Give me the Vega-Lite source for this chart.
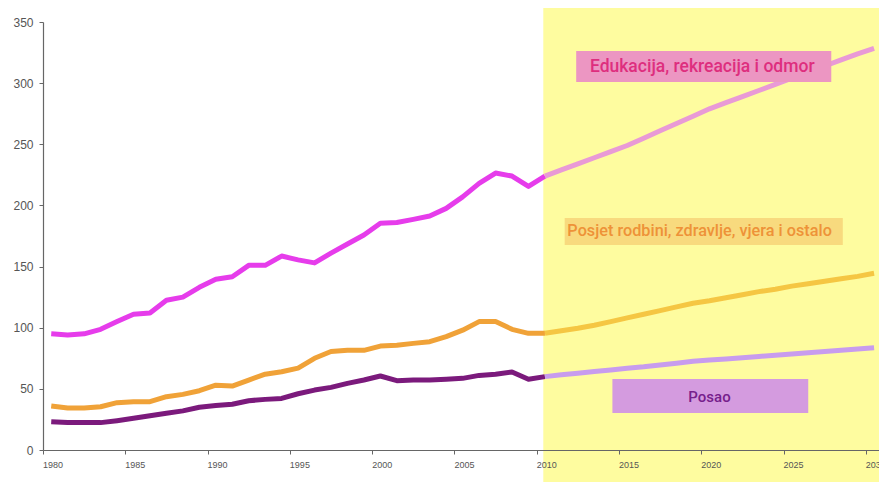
{
  "$schema": "https://vega.github.io/schema/vega-lite/v6.json",
  "width": 836,
  "height": 428,
  "autosize": {"type": "none"},
  "padding": {"left": 43, "top": 22, "right": 0, "bottom": 32},
  "background": "white",
  "config": {"view": {"stroke": null}},
  "datasets": {
    "lines": [
      {"year":1980,"v":95,"s":"edu_h"},{"year":1981,"v":94,"s":"edu_h"},{"year":1982,"v":95,"s":"edu_h"},{"year":1983,"v":98.7,"s":"edu_h"},{"year":1984,"v":105,"s":"edu_h"},{"year":1985,"v":111,"s":"edu_h"},{"year":1986,"v":112,"s":"edu_h"},{"year":1987,"v":122.5,"s":"edu_h"},{"year":1988,"v":125,"s":"edu_h"},{"year":1989,"v":133,"s":"edu_h"},{"year":1990,"v":139.6,"s":"edu_h"},{"year":1991,"v":141.7,"s":"edu_h"},{"year":1992,"v":151,"s":"edu_h"},{"year":1993,"v":151,"s":"edu_h"},{"year":1994,"v":158.6,"s":"edu_h"},{"year":1995,"v":155.5,"s":"edu_h"},{"year":1996,"v":153,"s":"edu_h"},{"year":1997,"v":161,"s":"edu_h"},{"year":1998,"v":168.5,"s":"edu_h"},{"year":1999,"v":175.8,"s":"edu_h"},{"year":2000,"v":185.5,"s":"edu_h"},{"year":2001,"v":186,"s":"edu_h"},{"year":2002,"v":188.6,"s":"edu_h"},{"year":2003,"v":191.3,"s":"edu_h"},{"year":2004,"v":197.6,"s":"edu_h"},{"year":2005,"v":207,"s":"edu_h"},{"year":2006,"v":218,"s":"edu_h"},{"year":2007,"v":226.5,"s":"edu_h"},{"year":2008,"v":224,"s":"edu_h"},{"year":2009,"v":215.5,"s":"edu_h"},{"year":2010,"v":224,"s":"edu_h"},
      {"year":2010,"v":224,"s":"edu_f"},{"year":2011,"v":229,"s":"edu_f"},{"year":2012,"v":234,"s":"edu_f"},{"year":2013,"v":239,"s":"edu_f"},{"year":2014,"v":244,"s":"edu_f"},{"year":2015,"v":249,"s":"edu_f"},{"year":2016,"v":255,"s":"edu_f"},{"year":2017,"v":261,"s":"edu_f"},{"year":2018,"v":267,"s":"edu_f"},{"year":2019,"v":273,"s":"edu_f"},{"year":2020,"v":279,"s":"edu_f"},{"year":2021,"v":284,"s":"edu_f"},{"year":2022,"v":289,"s":"edu_f"},{"year":2023,"v":294,"s":"edu_f"},{"year":2024,"v":299,"s":"edu_f"},{"year":2025,"v":304,"s":"edu_f"},{"year":2026,"v":309,"s":"edu_f"},{"year":2027,"v":314,"s":"edu_f"},{"year":2028,"v":319,"s":"edu_f"},{"year":2029,"v":324,"s":"edu_f"},{"year":2030,"v":328.5,"s":"edu_f"},
      {"year":1980,"v":36,"s":"pos_h"},{"year":1981,"v":34.3,"s":"pos_h"},{"year":1982,"v":34.3,"s":"pos_h"},{"year":1983,"v":35.4,"s":"pos_h"},{"year":1984,"v":38.7,"s":"pos_h"},{"year":1985,"v":39.5,"s":"pos_h"},{"year":1986,"v":39.5,"s":"pos_h"},{"year":1987,"v":43.6,"s":"pos_h"},{"year":1988,"v":45.5,"s":"pos_h"},{"year":1989,"v":48.5,"s":"pos_h"},{"year":1990,"v":53,"s":"pos_h"},{"year":1991,"v":52.3,"s":"pos_h"},{"year":1992,"v":57.2,"s":"pos_h"},{"year":1993,"v":62,"s":"pos_h"},{"year":1994,"v":64,"s":"pos_h"},{"year":1995,"v":67,"s":"pos_h"},{"year":1996,"v":75,"s":"pos_h"},{"year":1997,"v":80.5,"s":"pos_h"},{"year":1998,"v":81.5,"s":"pos_h"},{"year":1999,"v":81.5,"s":"pos_h"},{"year":2000,"v":85,"s":"pos_h"},{"year":2001,"v":85.6,"s":"pos_h"},{"year":2002,"v":87.2,"s":"pos_h"},{"year":2003,"v":88.6,"s":"pos_h"},{"year":2004,"v":92.7,"s":"pos_h"},{"year":2005,"v":98,"s":"pos_h"},{"year":2006,"v":105,"s":"pos_h"},{"year":2007,"v":105,"s":"pos_h"},{"year":2008,"v":98.7,"s":"pos_h"},{"year":2009,"v":95.4,"s":"pos_h"},{"year":2010,"v":95.4,"s":"pos_h"},
      {"year":2010,"v":95.4,"s":"pos_f"},{"year":2011,"v":97.5,"s":"pos_f"},{"year":2012,"v":99.5,"s":"pos_f"},{"year":2013,"v":102,"s":"pos_f"},{"year":2014,"v":105,"s":"pos_f"},{"year":2015,"v":108,"s":"pos_f"},{"year":2016,"v":111,"s":"pos_f"},{"year":2017,"v":114,"s":"pos_f"},{"year":2018,"v":117,"s":"pos_f"},{"year":2019,"v":120,"s":"pos_f"},{"year":2020,"v":122,"s":"pos_f"},{"year":2021,"v":124.5,"s":"pos_f"},{"year":2022,"v":127,"s":"pos_f"},{"year":2023,"v":129.5,"s":"pos_f"},{"year":2024,"v":131.5,"s":"pos_f"},{"year":2025,"v":134,"s":"pos_f"},{"year":2026,"v":136,"s":"pos_f"},{"year":2027,"v":138,"s":"pos_f"},{"year":2028,"v":140,"s":"pos_f"},{"year":2029,"v":142,"s":"pos_f"},{"year":2030,"v":144.5,"s":"pos_f"},
      {"year":1980,"v":23.2,"s":"rad_h"},{"year":1981,"v":22.4,"s":"rad_h"},{"year":1982,"v":22.4,"s":"rad_h"},{"year":1983,"v":22.4,"s":"rad_h"},{"year":1984,"v":24,"s":"rad_h"},{"year":1985,"v":25.9,"s":"rad_h"},{"year":1986,"v":28,"s":"rad_h"},{"year":1987,"v":30,"s":"rad_h"},{"year":1988,"v":32,"s":"rad_h"},{"year":1989,"v":35,"s":"rad_h"},{"year":1990,"v":36.3,"s":"rad_h"},{"year":1991,"v":37.4,"s":"rad_h"},{"year":1992,"v":40.3,"s":"rad_h"},{"year":1993,"v":41.4,"s":"rad_h"},{"year":1994,"v":42.2,"s":"rad_h"},{"year":1995,"v":46,"s":"rad_h"},{"year":1996,"v":49,"s":"rad_h"},{"year":1997,"v":51.2,"s":"rad_h"},{"year":1998,"v":54.5,"s":"rad_h"},{"year":1999,"v":57.2,"s":"rad_h"},{"year":2000,"v":60.5,"s":"rad_h"},{"year":2001,"v":56.7,"s":"rad_h"},{"year":2002,"v":57.2,"s":"rad_h"},{"year":2003,"v":57.2,"s":"rad_h"},{"year":2004,"v":57.8,"s":"rad_h"},{"year":2005,"v":58.6,"s":"rad_h"},{"year":2006,"v":61,"s":"rad_h"},{"year":2007,"v":62,"s":"rad_h"},{"year":2008,"v":63.8,"s":"rad_h"},{"year":2009,"v":57.8,"s":"rad_h"},{"year":2010,"v":60,"s":"rad_h"},
      {"year":2010,"v":60,"s":"rad_f"},{"year":2011,"v":61.5,"s":"rad_f"},{"year":2012,"v":62.8,"s":"rad_f"},{"year":2013,"v":64.2,"s":"rad_f"},{"year":2014,"v":65.5,"s":"rad_f"},{"year":2015,"v":66.8,"s":"rad_f"},{"year":2016,"v":68,"s":"rad_f"},{"year":2017,"v":69.5,"s":"rad_f"},{"year":2018,"v":71,"s":"rad_f"},{"year":2019,"v":72.5,"s":"rad_f"},{"year":2020,"v":73.6,"s":"rad_f"},{"year":2021,"v":74.5,"s":"rad_f"},{"year":2022,"v":75.5,"s":"rad_f"},{"year":2023,"v":76.5,"s":"rad_f"},{"year":2024,"v":77.5,"s":"rad_f"},{"year":2025,"v":78.5,"s":"rad_f"},{"year":2026,"v":79.5,"s":"rad_f"},{"year":2027,"v":80.5,"s":"rad_f"},{"year":2028,"v":81.5,"s":"rad_f"},{"year":2029,"v":82.6,"s":"rad_f"},{"year":2030,"v":83.7,"s":"rad_f"}
    ]
  },
  "layer": [
    {
      "data": {"values": [{"x": 2009.9, "x2": 2031.5, "y": 361.4, "y2": -27}]},
      "mark": {"type": "rect", "color": "#FEFC9F", "clip": false},
      "encoding": {
        "x": {"field": "x", "type": "quantitative", "scale": {"domain": [1979.5, 2030.3], "nice": false, "zero": false},
          "axis": {"values": [1980,1985,1990,1995,2000,2005,2010,2015,2020,2025,2030], "format": "d", "title": null, "zindex": 1,
            "grid": false, "domainColor": "#666", "domainWidth": 1.2, "tickColor": "#666", "tickSize": 4, "tickOffset": -8.2, "labelOffset": 9.5,
            "labelFont": "Liberation Sans", "labelFontSize": 9, "labelColor": "#555", "labelPadding": 6, "labelFlush": false, "labelOverlap": false}},
        "x2": {"field": "x2"},
        "y": {"field": "y", "type": "quantitative", "scale": {"domain": [0, 350], "nice": false},
          "axis": {"values": [0,50,100,150,200,250,300,350], "title": null, "zindex": 1, "grid": false,
            "domainColor": "#666", "domainWidth": 1.2, "tickColor": "#666", "tickSize": 4,
            "labelFont": "Liberation Sans", "labelFontSize": 12, "labelColor": "#555", "labelPadding": 6}},
        "y2": {"field": "y2"}
      }
    },
    {
      "data": {"name": "lines"},
      "mark": {"type": "line", "strokeWidth": 5, "strokeJoin": "round", "clip": false},
      "encoding": {
        "x": {"field": "year", "type": "quantitative"},
        "y": {"field": "v", "type": "quantitative"},
        "color": {"field": "s", "type": "nominal", "legend": null,
          "scale": {"domain": ["edu_h","edu_f","pos_h","pos_f","rad_h","rad_f"],
                    "range": ["#E63CEB","#E99AD6","#F0A238","#F5C643","#7B1A7C","#C89CEE"]}}
      }
    },
    {
      "data": {"values": [
        {"x": 2011.9, "x2": 2027.4, "y": 326.3, "y2": 300.9, "k": "edu"},
        {"x": 2011.2, "x2": 2028.1, "y": 189.7, "y2": 167.6, "k": "pos"},
        {"x": 2014.1, "x2": 2026.0, "y": 58.1, "y2": 30.3, "k": "rad"}
      ]},
      "mark": {"type": "rect"},
      "encoding": {
        "x": {"field": "x", "type": "quantitative"},
        "x2": {"field": "x2"},
        "y": {"field": "y", "type": "quantitative"},
        "y2": {"field": "y2"},
        "fill": {"field": "k", "type": "nominal", "legend": null,
          "scale": {"domain": ["edu","pos","rad"], "range": ["#EC96C2","#F8DA7E","#D49BDF"]}}
      }
    },
    {
      "data": {"values": [
        {"x": 2019.56, "y": 313.6, "t": "Edukacija, rekreacija i odmor", "k": "edu"},
        {"x": 2019.4, "y": 178.7, "t": "Posjet rodbini, zdravlje, vjera i ostalo", "k": "pos"},
        {"x": 2020.0, "y": 43.5, "t": "Posao", "k": "rad"}
      ]},
      "mark": {"type": "text", "font": "Roboto", "fontWeight": 500, "align": "center", "baseline": "middle"},
      "encoding": {
        "x": {"field": "x", "type": "quantitative"},
        "y": {"field": "y", "type": "quantitative"},
        "text": {"field": "t"},
        "size": {"field": "k", "type": "nominal", "legend": null,
          "scale": {"domain": ["edu","pos","rad"], "range": [17.5, 15, 23]}},
        "color": {"field": "k", "type": "nominal", "legend": null,
          "scale": {"domain": ["edu","pos","rad"], "range": ["#DE2E7E","#EE9238","#76208C"]}}
      }
    }
  ],
  "resolve": {"scale": {"color": "independent"}}
}
